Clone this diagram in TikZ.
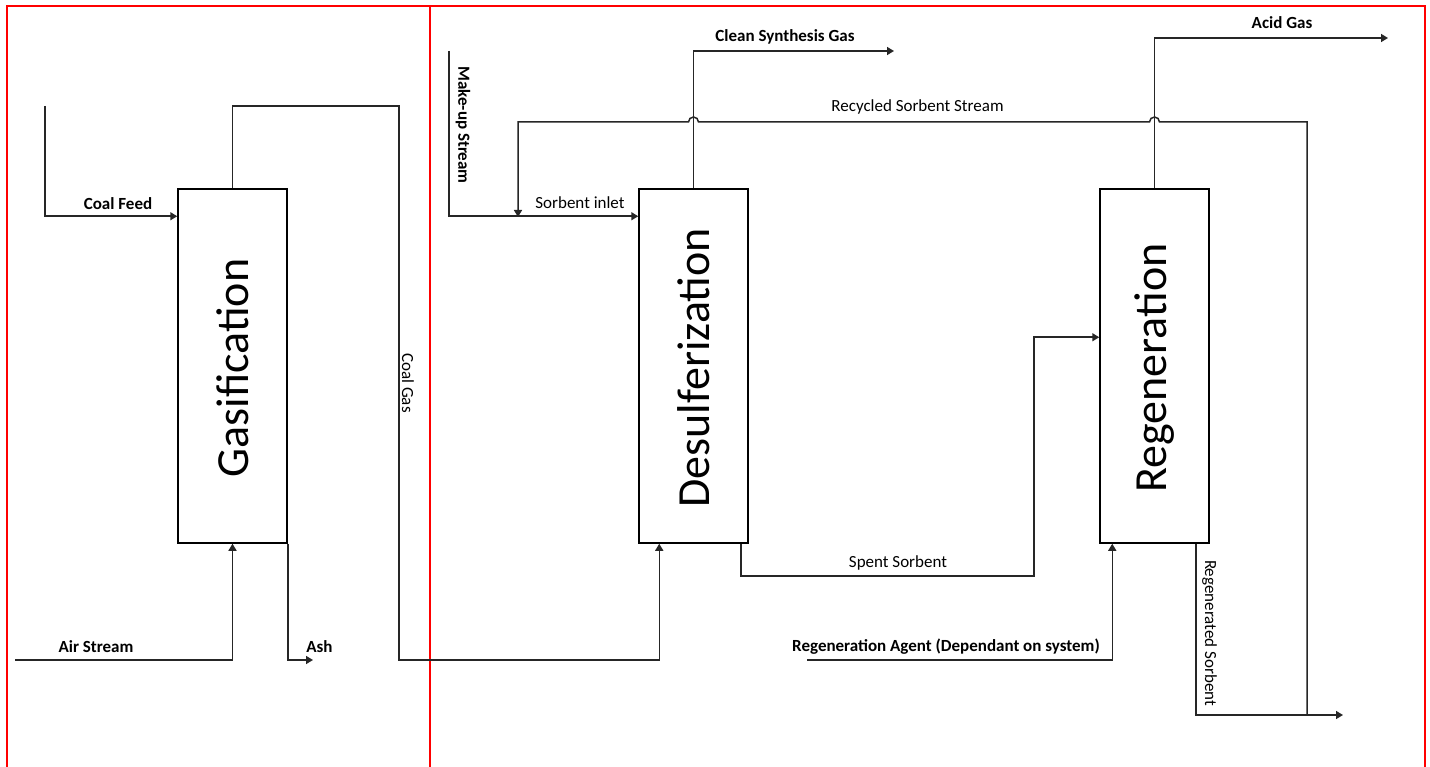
\documentclass[tikz,border=0pt]{standalone}
\usepackage{fontspec}
\setmainfont{Carlito}
\usetikzlibrary{arrows.meta,calc}
\tikzset{
 flow/.style={draw=black!85, line width=1.5pt},
 arr/.style={flow, -{Triangle[length=7pt,width=8pt]}},
 box/.style={draw, line width=1.5pt, minimum width=109pt, minimum height=354pt, inner sep=0pt},
 big/.style={font=\fontsize{46}{50}\selectfont, inner sep=0pt},
 lbl/.style={font=\fontsize{17}{20}\selectfont, inner sep=0pt},
 blbl/.style={font=\fontsize{17}{20}\selectfont\bfseries, inner sep=0pt},
 frame/.style={draw=red, line width=1.5pt},
}
\begin{document}
\begin{tikzpicture}[x=1pt,y=-1pt]
\useasboundingbox (0,0) rectangle (1430,767);
\clip (0,0) rectangle (1430,767);
\fill[white] (0,0) rectangle (1430,767);
% frames
\draw[frame] (7,780) -- (7,6) -- (430,6) -- (430,780);
\draw[frame] (430,6) -- (1425,6) -- (1425,780);
% boxes
\node[box] (gas) at (232.5,366) {};
\node[box] (des) at (693.5,366) {};
\node[box] (reg) at (1154.5,366) {};
\node[big, rotate=90] (gast) at ($(gas.center)+(0,2)$) {Gasification};
\node[big, rotate=90] (dest) at ($(des.center)+(0,2)$) {Desulferization};
\node[big, rotate=90] (regt) at ($(reg.center)+(0,2)$) {Regeneration};
% free ends
\coordinate (cf) at (45,106);
\coordinate (cgtop) at (399,106);
\coordinate (cgbot) at (399,660);
\coordinate (air) at (15,660);
\coordinate (ash) at (313,660);
\coordinate (mu) at (449,51);
\coordinate (csg) at (894,51);
\coordinate (ssd) at (1034,576);
\coordinate (ag) at (1388,38);
\coordinate (ra) at (807,660);
\coordinate (rs) at (1343,715);
\coordinate (rj) at (1307,715);
\coordinate (rtop) at (1307,122);
\coordinate (si) at (518,217);
% connectors
\draw[arr] (cf) |- ($(gas.north west)+(0,28)$);
\draw[arr] (gas.north) |- (cgtop) -- (cgbot) -| ($(des.south west)+(21,0)$);
\draw[arr] (air) -| (gas.south);
\draw[arr] (gas.south east) |- (ash);
\draw[arr] (mu) |- ($(des.north west)+(0,28)$);
\draw[arr] (des.north) |- (csg);
\draw[arr] ($(des.south east)+(-8,0)$) |- (ssd) |- ($(reg.north west)+(0,149)$);
\draw[arr] (reg.north) |- (ag);
\draw[arr] (ra) -| ($(reg.south west)+(13,0)$);
\draw[arr] ($(reg.south east)+(-14,0)$) |- (rs);
\draw[arr] (rj) -- (rtop) -- ($(reg.north |- rtop)+(5,0)$) arc[start angle=0,end angle=-180,radius=5]
  -- ($(des.north |- rtop)+(5,0)$) arc[start angle=0,end angle=-180,radius=5] -| (si);
% labels
\node[blbl] (lcf) at (118,204) {Coal Feed};
\node[blbl] (lair) at (96,647) {Air Stream};
\node[blbl] (lash) at (319.5,647) {Ash};
\node[lbl, rotate=-90] (lcg) at (408,383) {Coal Gas};
\node[blbl, rotate=-90] (lmu) at (463,125) {Make-up Stream};
\node[lbl] (lsi) at (580,203) {Sorbent inlet};
\node[blbl] (lcsg) at (785,37) {Clean Synthesis Gas};
\node[lbl] (lrss) at (917.5,107) {Recycled Sorbent Stream};
\node[blbl] (lag) at (1282,23) {Acid Gas};
\node[lbl] (lss) at (898,563) {Spent Sorbent};
\node[blbl] (lra) at (946,647) {Regeneration Agent (Dependant on system)};
\node[lbl, rotate=-90] (lrs) at (1209.5,633) {Regenerated Sorbent};
\end{tikzpicture}
\end{document}
